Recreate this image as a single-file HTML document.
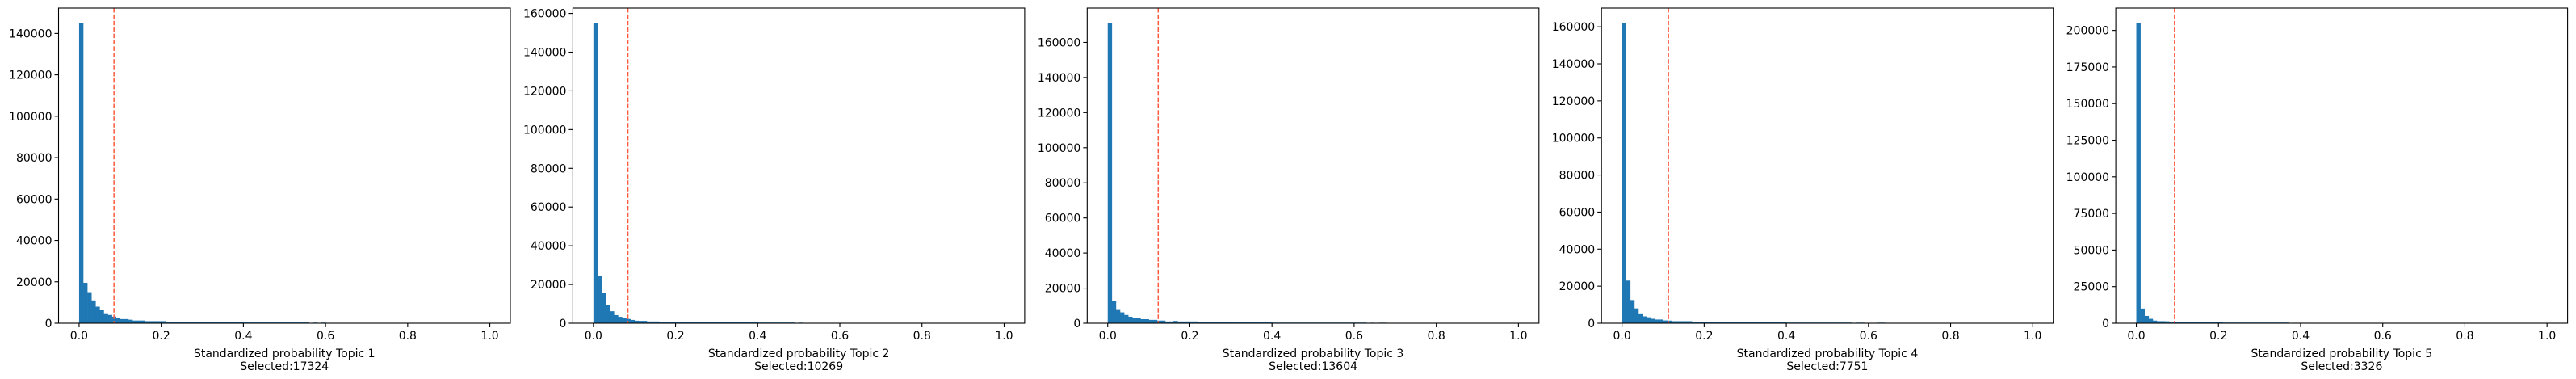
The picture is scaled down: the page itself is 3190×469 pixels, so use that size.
<!DOCTYPE html>
<html><head><meta charset="utf-8"><style>
html,body{margin:0;padding:0;background:#fff;}
svg{display:block;font-family:"DejaVu Sans","Liberation Sans",sans-serif;}
</style></head><body>
<svg id="fig" width="3190" height="469" viewBox="0 0 3190 469" xmlns="http://www.w3.org/2000/svg"></svg>
<script>
const topics = ["Topic 1","Topic 2","Topic 3","Topic 4","Topic 5"];
const selectedCounts = [17324,10269,13604,7751,3326];
const thresholds = [0.085,0.084,0.123,0.113,0.093];
const xTicks = [0,0.2,0.4,0.6,0.8,1.0];
const xTickLabels = ["0.0","0.2","0.4","0.6","0.8","1.0"];
const yTicks1 = [0,20000,40000,60000,80000,100000,120000,140000];
const yTicks2 = [0,20000,40000,60000,80000,100000,120000,140000,160000];
const yTicks3 = [0,20000,40000,60000,80000,100000,120000,140000,160000];
const yTicks4 = [0,20000,40000,60000,80000,100000,120000,140000,160000];
const yTicks5 = [0,25000,50000,75000,100000,125000,150000,175000,200000];
const counts1 = [145000,19500,15000,11000,8000,6300,4800,4000,3200,2700,2000,2000,1700,1300,1300,1300,1000,1000,1000,1000,1000,
600,600,600,600,600,600,600,600,600,
450,450,450,450,450,450,450,450,450,450,
350,350,350,350,350,350,350,350,350,350,350,350,350,350,350,350,
0,300,0,300];
const counts2 = [155000,24500,15500,9500,6200,4200,3300,2600,2200,1700,1300,1200,1200,900,900,900,
600,600,600,600,600,600,600,600,600,600,600,600,600,600,
450,450,450,450,450,450,450,450,450,450,
350,350,350,350,350,350,350,350,350,
0,300];
const counts3 = [171000,12500,8000,6200,4700,3700,2800,2800,2300,2300,1900,1900,1500,1500,1000,1000,1300,1000,1000,1000,1000,1000,
600,600,600,600,600,600,600,600,
450,450,450,450,450,450,450,450,450,450,
350,350,350,350,350,350,350,350,350,350,350,350,350,350,350,350,350,350,350,350,350,350,350,
0,300,0,300,300];
const counts4 = [162000,23000,12500,8000,5300,3700,3200,2400,2000,2000,1500,1400,1100,1100,1100,1100,1100,
600,600,600,600,600,600,600,600,600,600,600,600,600,
450,450,450,450,450,450,450,450,450,450,
350,350,350,350,350,350,350,350,350,350,350,350,350,350,350,350,
0,300,300,0,0,0,300,300];
const counts5 = [205000,10000,5000,3000,1800,1400,1400,1300,
600,600,600,600,600,600,600,600,600,600,600,600,600,
450,450,450,450,450,450,450,450,450,450,450,450,450,450,450,450,
0,300,300,0,300];

const allCounts = [counts1,counts2,counts3,counts4,counts5];
const allYTicks = [yTicks1,yTicks2,yTicks3,yTicks4,yTicks5];

const NS = "http://www.w3.org/2000/svg";
const svg = document.getElementById("fig");
function mk(tag, attrs, parent){
  const e = document.createElementNS(NS, tag);
  for (const k in attrs) e.setAttribute(k, attrs[k]);
  (parent||svg).appendChild(e);
  return e;
}
const PW = 559.5, PT = 10, PB = 400, BIN = 0.01;
for (let p = 0; p < 5; p++) {
  const left = 72.5 + p*636.9;
  const counts = allCounts[p];
  const ymax = Math.max(...counts) * 1.05;
  const xs = v => left + (v + 0.05) / 1.1 * PW;
  const ys = v => PB - v / ymax * (PB - PT);
  const g = mk("g", {});
  
  
  counts.forEach((c, i) => {
    if (c <= 0) return;
    const x0 = xs(i*BIN), x1 = xs((i+1)*BIN);
    const r = mk("rect", {x:x0, y:ys(c), width:x1-x0+0.3, height:PB-ys(c), fill:"#1f77b4"}, g);
    
    
  });
  const th = mk("line", {x1:xs(thresholds[p]), x2:xs(thresholds[p]), y1:PT, y2:PB, stroke:"#ff5a3c", "stroke-width":1.5, "stroke-dasharray":"5.5,2.4"}, g);
  
  
  const frame = mk("rect", {x:left, y:PT, width:PW, height:PB-PT, fill:"none", stroke:"#000", "stroke-width":1.1}, g);
  
  
  xTicks.forEach((t, i) => {
    const x = xs(t);
    mk("line", {x1:x, x2:x, y1:PB, y2:PB+5, stroke:"#000", "stroke-width":1.1}, g);
    const tx = mk("text", {x:x, y:PB+20, "font-size":14, "text-anchor":"middle", fill:"#000"}, g);
    tx.textContent = xTickLabels[i];
    
    
  });
  allYTicks[p].forEach(t => {
    const y = ys(t);
    mk("line", {x1:left-5, x2:left, y1:y, y2:y, stroke:"#000", "stroke-width":1.1}, g);
    const tx = mk("text", {x:left-8, y:y+5, "font-size":14, "text-anchor":"end", fill:"#000"}, g);
    tx.textContent = String(t);
    
    
  });
  const xl = mk("text", {x:left+PW/2, y:442, "font-size":14, "text-anchor":"middle", fill:"#000"}, g);
  xl.textContent = "Standardized probability " + topics[p];
  
  
  const sl = mk("text", {x:left+PW/2, y:458, "font-size":14, "text-anchor":"middle", fill:"#000"}, g);
  sl.textContent = "Selected:" + selectedCounts[p];
  
  
}
</script>
</body></html>
